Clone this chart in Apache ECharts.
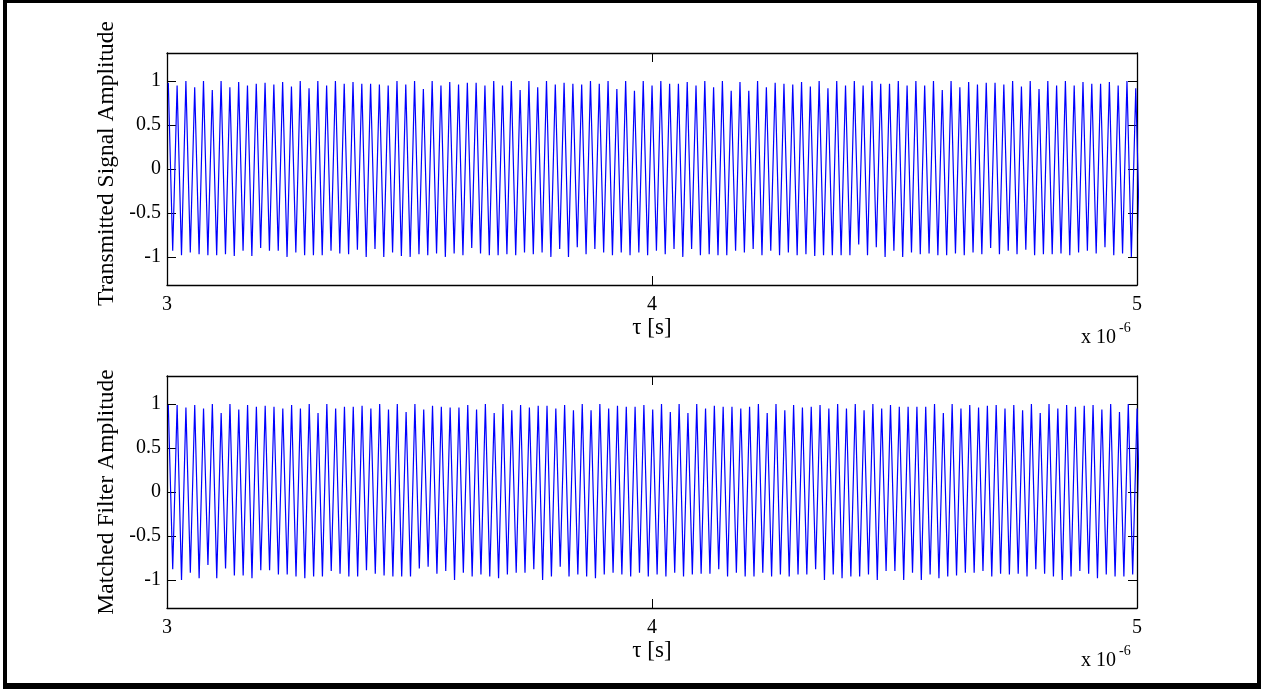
<!DOCTYPE html>
<html>
<head>
<meta charset="utf-8">
<script src="https://cdn.jsdelivr.net/npm/echarts@6/dist/echarts.min.js"></script>
<style>
html,body{margin:0;padding:0;background:#fff;}
#chart{width:1268px;height:691px;}
</style>
</head>
<body>
<div id="chart"></div>
<script>
// ---- data (time in microseconds) ----
const xTicks = [3, 4, 5];
const yTicks = [-1, -0.5, 0, 0.5, 1];

// time of first crest and crest spacing (µs)
const txStart = 3.0027, txPeriod = 0.018134;
const mfStart = 3.0027, mfPeriod = 0.018159;

// Transmitted signal: crest values and the trough following each crest
const txPeaks = [
 0.98,0.95,1.0,0.93,1.0,0.90,1.0,0.93,0.99,0.95,
 0.97,0.98,0.96,0.99,0.94,1.0,0.92,1.0,0.95,1.0,
 0.97,0.99,0.97,0.97,0.96,0.95,1.0,0.96,1.0,0.91,
 1.0,0.95,0.99,0.96,0.98,0.98,0.95,1.0,0.95,1.0,
 0.90,1.0,0.93,1.0,0.96,0.98,0.97,0.96,1.0,0.97,
 1.0,0.91,1.0,0.89,1.0,0.95,1.0,0.97,0.97,0.99,
 0.95,1.0,0.93,1.0,0.89,0.99,0.89,1.0,0.93,0.98,
 0.97,0.96,0.99,0.94,1.0,0.92,1.0,0.95,1.0,0.95,
 1.0,0.97,0.97,1.0,0.95,1.0,0.95,1.0,0.90,1.0,
 0.93,0.99,0.96,0.98,0.98,0.96,1.0,0.94,1.0,0.91,
 1.0,0.95,1.0,0.95,0.99,0.97,0.97,0.99,0.95,1.0,0.92
];
const txTroughs = [
 -0.93,-0.98,-0.95,-0.97,-0.98,-0.98,-0.97,-0.99,-0.93,-0.99,
 -0.90,-0.93,-0.93,-1.0,-0.95,-0.98,-0.98,-0.98,-0.93,-0.96,
 -0.97,-0.92,-1.0,-0.91,-1.0,-0.95,-0.99,-1.0,-0.97,-0.98,
 -0.96,-1.0,-0.96,-0.98,-0.90,-0.96,-0.98,
 -0.98,-0.97,-0.98,-0.95,-0.97,-0.95,-1.0,-0.91,-1.0,-0.89,
 -0.97,-0.91,-0.95,-0.98,-0.95,-0.98,-0.95,-0.98,-0.93,-0.97,
 -0.91,-1.0,-0.91,-0.98,-0.97,-0.98,-0.98,-0.93,-0.95,-0.91,
 -0.98,-0.93,-0.98,-0.95,-0.98,-0.97,-0.99,
 -0.98,-0.98,-0.98,-0.98,-0.86,-0.98,-0.89,-1.0,-0.93,-1.0,
 -0.95,-0.97,-0.96,-0.98,-0.98,-0.96,-0.98,-0.95,-0.97,-0.90,
 -0.97,-0.93,-0.97,-0.92,-0.98,-0.97,-0.97,-0.96,-0.98,-0.95,
 -0.93,-0.96,-0.89,-0.98,-0.96,-1.0,-1.0
];

// Matched filter: crest values and the trough following each crest
const mfPeaks = [
 0.99,0.99,0.96,0.99,0.95,1.0,0.90,1.0,0.94,0.99,
 0.97,0.98,0.97,0.95,0.99,0.95,1.0,0.90,1.0,0.95,
 0.97,0.97,0.98,0.95,1.0,0.94,1.0,0.91,1.0,0.94,
 0.98,0.97,0.96,0.96,0.99,0.94,1.0,
 0.90,1.0,0.93,0.99,0.96,0.98,0.98,0.95,0.99,0.93,
 1.0,0.93,1.0,0.95,0.98,0.97,0.97,0.99,0.94,1.0,
 0.91,1.0,0.90,1.0,0.95,0.98,0.97,0.97,0.95,0.97,
 1.0,0.90,1.0,0.93,0.99,0.96,0.97,
 0.99,0.95,1.0,0.95,1.0,0.93,1.0,0.95,0.99,0.97,
 0.97,0.97,0.97,1.0,0.90,1.0,0.95,0.99,0.96,0.98,
 0.99,0.95,0.99,0.93,1.0,0.90,1.0,0.95,0.99,0.97,
 0.98,0.99,0.94,1.0,0.91,1.0,0.95
];
const mfTroughs = [
 -0.88,-1.0,-0.92,-0.98,-0.83,-0.98,-0.87,-0.95,-0.95,-0.98,
 -0.89,-0.89,-0.94,-0.94,-0.96,-0.98,-0.96,-0.96,-0.90,-0.93,
 -0.96,-0.96,-0.89,-0.93,-0.95,-0.96,-0.96,-0.96,-0.87,-0.85,
 -0.93,-0.90,-1.0,-0.92,-0.96,-0.94,-0.96,
 -0.98,-0.94,-0.92,-0.92,-0.88,-1.0,-0.96,-0.85,-0.96,-0.94,
 -0.96,-0.98,-0.94,-0.92,-0.94,-0.96,-0.92,-0.96,-0.94,-0.96,
 -0.92,-0.96,-0.94,-0.93,-0.93,-0.88,-0.96,-0.92,-0.96,-0.96,
 -0.92,-0.96,-0.94,-0.96,-0.94,-0.94,-0.88,
 -1.0,-0.94,-0.98,-0.96,-0.96,-0.94,-1.0,-0.90,-0.90,-1.0,
 -0.92,-1.0,-0.94,-0.98,-0.96,-0.95,-0.92,-0.92,-0.90,-0.96,
 -0.93,-0.94,-0.93,-0.96,-0.88,-0.93,-0.96,-1.0,-0.96,-0.90,
 -0.93,-0.98,-0.94,-0.96,-0.96,-0.94,-0.96
];

// ---- build series (uniform crest spacing, trough half a period later) ----
function buildSeries(t0, T, peaks, troughs) {
  const out = [];
  const n = Math.min(peaks.length, troughs.length);
  for (let k = 0; k < n; k++) {
    out.push([t0 + k * T, peaks[k]]);
    out.push([t0 + (k + 0.5) * T, troughs[k]]);
  }
  return out;
}
const txData = buildSeries(txStart, txPeriod, txPeaks, txTroughs);
const mfData = buildSeries(mfStart, mfPeriod, mfPeaks, mfTroughs);

const FONT = "'Liberation Serif', 'Times New Roman', serif";
const grids = [
  {left: 167, width: 970, top: 53, height: 232},
  {left: 167, width: 970, top: 376, height: 232}
];

function xAx(gi, pos, labels) {
  return {
    type: 'value', gridIndex: gi, position: pos, min: 3, max: 5,
    axisLine: {show: true, onZero: false, lineStyle: {color: '#000', width: 1.3}},
    axisTick: {show: true, inside: true, length: 9, customValues: xTicks, lineStyle: {color: '#000', width: 1}},
    axisLabel: {show: labels, customValues: xTicks, margin: 10, color: '#000', fontFamily: FONT, fontSize: 20,
      formatter: v => String(v)},
    splitLine: {show: false},
    name: labels ? 'τ [s]' : '', nameLocation: 'middle', nameGap: 31,
    nameTextStyle: {color: '#000', fontFamily: FONT, fontSize: 23}
  };
}
function yAx(gi, pos, labels, name, pad) {
  return {
    type: 'value', gridIndex: gi, position: pos, min: -1.32, max: 1.32,
    axisLine: {show: true, onZero: false, lineStyle: {color: '#000', width: 1.3}},
    axisTick: {show: true, inside: true, length: 9, customValues: yTicks, lineStyle: {color: '#000', width: 1}},
    axisLabel: {show: labels, customValues: yTicks, margin: 6, color: '#000', fontFamily: FONT, fontSize: 20,
      formatter: v => String(v)},
    splitLine: {show: false},
    name: labels ? name : '', nameLocation: 'middle', nameGap: 46, nameRotate: 90,
    nameTextStyle: {color: '#000', fontFamily: FONT, fontSize: 23.5, padding: pad || 0}
  };
}

const chart = echarts.init(document.getElementById('chart'), null, {renderer: 'canvas'});
chart.setOption({
  animation: false,
  backgroundColor: '#fff',
  grid: grids,
  xAxis: [xAx(0, 'bottom', true), xAx(0, 'top', false), xAx(1, 'bottom', true), xAx(1, 'top', false)],
  yAxis: [yAx(0, 'left', true, 'Transmitted Signal Amplitude', [0, 0, 0, 11]), yAx(0, 'right', false, ''),
          yAx(1, 'left', true, 'Matched Filter Amplitude'), yAx(1, 'right', false, '')],
  series: [
    {type: 'line', xAxisIndex: 0, yAxisIndex: 0, data: txData, showSymbol: false, clip: true,
     lineStyle: {color: '#0000ff', width: 1.2}, z: 1},
    {type: 'line', xAxisIndex: 2, yAxisIndex: 2, data: mfData, showSymbol: false, clip: true,
     lineStyle: {color: '#0000ff', width: 1.2}, z: 1}
  ],
  graphic: [
    {type: 'rect', shape: {x: 3, y: 0, width: 1258, height: 3}, style: {fill: '#000'}, z: 100},
    {type: 'rect', shape: {x: 3, y: 0, width: 4, height: 689}, style: {fill: '#000'}, z: 100},
    {type: 'rect', shape: {x: 1257, y: 0, width: 4, height: 689}, style: {fill: '#000'}, z: 100},
    {type: 'rect', shape: {x: 3, y: 683, width: 1258, height: 6}, style: {fill: '#000'}, z: 100},
    {type: 'text', style: {text: 'x 10', x: 1081, y: 338, font: "20px " + FONT, fill: '#000', textVerticalAlign: 'middle'}},
    {type: 'text', style: {text: '-6', x: 1119, y: 328, font: "14px " + FONT, fill: '#000', textVerticalAlign: 'middle'}},
    {type: 'text', style: {text: 'x 10', x: 1081, y: 661, font: "20px " + FONT, fill: '#000', textVerticalAlign: 'middle'}},
    {type: 'text', style: {text: '-6', x: 1119, y: 651, font: "14px " + FONT, fill: '#000', textVerticalAlign: 'middle'}}
  ]
});
</script>
</body>
</html>
